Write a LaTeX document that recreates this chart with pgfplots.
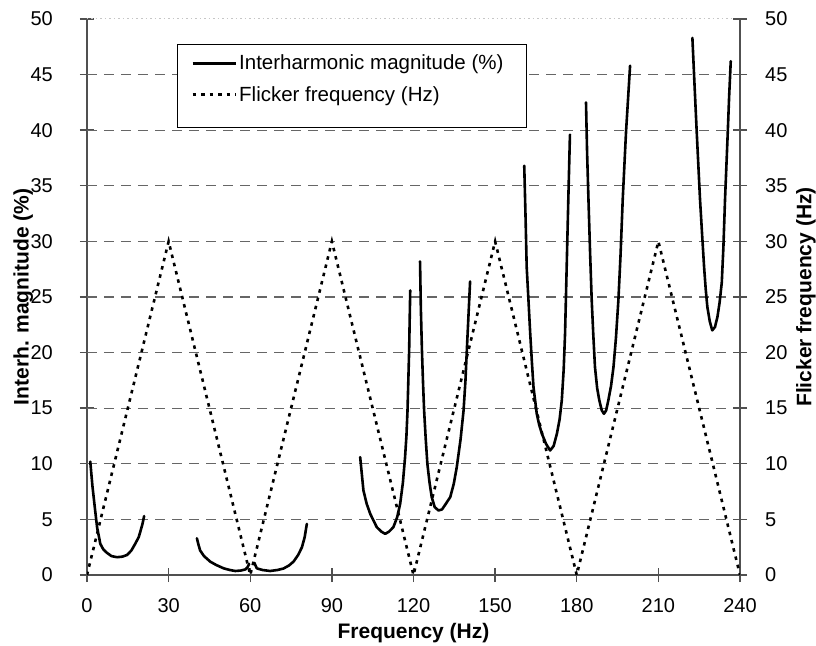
\documentclass[border=0pt]{standalone}
\usepackage{fontspec}
\setmainfont{Liberation Sans}
\usepackage{pgfplots}
\pgfplotsset{compat=1.18}
\definecolor{axisgray}{HTML}{505050}
\definecolor{gridgray}{HTML}{666666}
\pgfplotsset{
  common/.style={
    at={(0pt,0pt)}, anchor=south west,
    width=653pt, height=556pt, scale only axis,
    xmin=0, xmax=240, ymin=0, ymax=50,
    ytick={0,5,...,50},
    tick align=center, major tick length=14pt,
    tick style={axisgray, line width=1.4pt},
    axis line style={draw=axisgray, line width=1.8pt},
    tick label style={font=\fontsize{20}{22}\selectfont},
    /pgf/number format/assume math mode=true,
    label style={font=\bfseries\fontsize{21}{24}\selectfont},
  },
  interh/.style={black, line width=2.6pt, line join=round, line cap=round},
  flicker/.style={black, line width=2.6pt, dash pattern=on 3.5pt off 5pt},
}
\begin{document}
\begin{tikzpicture}
\path[use as bounding box] (-87pt,-70pt) rectangle (729pt,575pt);
% left axis: interharmonic magnitude
\begin{axis}[common,
  axis x line*=bottom, axis y line*=left,
  xtick={0,30,...,240},
  xticklabel style={anchor=north, inner sep=0pt, yshift=-16pt},
  yticklabel style={anchor=east, inner sep=0pt, xshift=-27pt},
  extra y ticks={5,10,...,45}, extra y tick labels={},
  extra y tick style={grid=major, major tick length=0pt},
  major grid style={gridgray, line width=1.1pt, dash pattern=on 10pt off 7pt},
  xlabel={Frequency (Hz)},
  xlabel style={at={(axis description cs:0.5,-0.1135)}, anchor=base},
  ylabel={Interh. magnitude (\%)},
  ylabel style={at={(axis description cs:-0.0975,0.5)}, anchor=center},
  unbounded coords=jump,
  legend style={at={(axis description cs:0.1531,0.943)}, anchor=north west,
    draw=white, fill=white,
    font=\fontsize{20.5}{23}\selectfont,
    inner xsep=4pt, inner ysep=2pt, row sep=11pt,
    nodes={inner ysep=2pt}},
  legend cell align=left,
  legend image code/.code={\draw[#1] (0pt,0pt) -- (43pt,0pt);},
]
\draw[gray!45, line width=1pt, dash pattern=on 1.5pt off 3pt]
  (axis cs:0,50) -- (axis cs:238,50);
% legend frame
\draw[black, line width=0.9pt, fill=white]
  (axis description cs:0.1378,0.955) rectangle (axis description cs:0.6723,0.8058);
\addplot[interh, forget plot] coordinates {
  (1.2,10.2) (2,8.0) (3,5.8) (3.7,4.3) (4.9,2.8) (6,2.3) (7.3,2.0) (9,1.7)
  (11,1.6) (13,1.65) (14.7,1.8) (16.3,2.2) (17.7,2.8) (19,3.4) (19.6,3.9)
  (20.4,4.6) (21,5.3)
  (30,nan)
  (40.4,3.3) (41,2.7) (41.6,2.2) (43,1.7) (45.3,1.2) (47.5,0.9) (50.2,0.6)
  (52.5,0.45) (54.5,0.36) (56.5,0.4) (58.2,0.5) (59,0.7) (59.6,1.0)
  (60.5,nan)
  (61.5,1.1) (62.4,0.6) (64.5,0.45) (67.3,0.36) (70,0.45) (72.2,0.58)
  (74.2,0.85) (75.9,1.2) (77.6,1.8) (79,2.5) (80,3.4) (80.8,4.6)
  (90,nan)
  (100.4,10.6) (101.6,7.6) (102.8,6.4) (104.1,5.5) (106.5,4.3) (108.2,3.9)
  (109.6,3.7) (111,3.9) (112.6,4.3) (114,5.2) (115.1,6.4) (116.1,8.3)
  (116.9,10.6) (117.4,12.5) (117.8,14.8) (118.1,17.5) (118.4,20.2)
  (118.6,23) (118.8,25.6)
  (120,nan)
  (122.4,28.2) (122.7,24) (123.1,20.2) (123.5,17.3) (123.9,14.8) (124.5,12.2)
  (125.1,10.0) (125.9,8.3) (126.7,7.0) (127.8,6.1) (129.2,5.8) (130.5,5.9)
  (131.6,6.3) (133.5,7.0) (134.8,8.2) (135.9,9.7) (137.3,12.2) (138.4,14.8)
  (139.1,17.5) (139.6,20.2) (140.2,23.3) (140.8,26.4)
  (150,nan)
  (160.7,36.8) (161.2,32) (161.6,27.7) (162.3,24.5) (162.9,21.7) (163.5,19.2)
  (164.1,16.9) (165.3,14.5) (166.2,13.5) (167.2,12.7) (168.7,11.8)
  (170.2,11.2) (171.5,11.6) (172.7,12.7) (173.7,14.0) (174.5,15.7)
  (175.2,18.5) (175.7,21.7) (176.3,27.7) (176.9,33.8) (177.5,39.6)
  (180,nan)
  (183.4,42.5) (183.8,38) (184.3,33.8) (184.9,29) (185.5,24.7) (186.1,21.5)
  (186.7,18.7) (187.5,16.8) (188.3,15.7) (189.2,14.8) (190,14.5) (190.8,14.8)
  (191.6,15.7) (192.6,17.0) (193.5,18.7) (194.4,21.3) (195.3,24.7)
  (196.1,28.8) (196.9,33.8) (197.5,36.8) (198.1,39.8) (198.9,43) (199.6,45.8)
  (210,nan)
  (222.5,48.3) (223.3,44) (224.1,39.8) (225.3,33.8) (226.1,30.5) (226.8,27.7)
  (227.4,25.7) (228,24.1) (228.9,22.8) (229.8,22.0) (230.8,22.3) (231.7,23.2)
  (232.5,24.5) (233.3,26.3) (233.9,29.5) (234.5,33.8) (235,36.8) (235.5,39.8)
  (236,43) (236.6,46.2)
};
\addlegendimage{interh, line width=3pt, line cap=butt}
\addlegendentry{Interharmonic magnitude (\%)}
\addlegendimage{flicker}
\addlegendentry{Flicker frequency (Hz)}
\end{axis}
% right axis: flicker frequency
\begin{axis}[common,
  axis x line=none, axis y line*=right,
  yticklabel style={anchor=west, inner sep=0pt, xshift=18pt},
  ylabel={Flicker frequency (Hz)},
  ylabel style={at={(axis description cs:1.101,0.5)}, anchor=center},
]
\addplot[flicker] coordinates {
  (0,0) (30,30) (60,0) (90,30) (120,0) (150,30) (180,0) (210,30) (240,0)
};
\end{axis}
\end{tikzpicture}
\end{document}
